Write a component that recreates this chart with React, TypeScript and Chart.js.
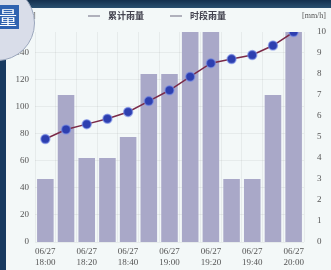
import React, { useEffect, useRef } from "react";
import { Chart, registerables } from "chart.js";

Chart.register(...registerables);

const categories = [
  ["06/27", "18:00"], ["06/27", "18:10"], ["06/27", "18:20"], ["06/27", "18:30"],
  ["06/27", "18:40"], ["06/27", "18:50"], ["06/27", "19:00"], ["06/27", "19:10"],
  ["06/27", "19:20"], ["06/27", "19:30"], ["06/27", "19:40"], ["06/27", "19:50"],
  ["06/27", "20:00"],
];
const periodRain = [3, 7, 4, 4, 5, 8, 8, 10, 10, 3, 3, 7, 10];
const cumulativeRain = [76, 83, 87, 91, 96, 104, 112, 122, 132, 135, 138, 145, 155];
const leftTicks = [0, 20, 40, 60, 80, 100, 120, 140];
const rightTicks = [0, 1, 2, 3, 4, 5, 6, 7, 8, 9, 10];
const legendLabels = ["累计雨量", "时段雨量"];
const leftUnit = "[mm]";
const rightUnit = "[mm/h]";

const FONT = "'Liberation Serif', 'DejaVu Serif', serif";

const overlay = {
  id: "overlay",
  afterDraw(chart: any) {
    const ctx = chart.ctx;
    ctx.save();
    ctx.font = "bold 9px 'Noto Sans CJK SC', sans-serif";
    ctx.textBaseline = "middle";
    const items = [
      { x: 88, label: legendLabels[0] },
      { x: 170, label: legendLabels[1] },
    ];
    items.forEach((it) => {
      ctx.strokeStyle = "#9a9aa8";
      ctx.lineWidth = 1.5;
      ctx.beginPath();
      ctx.moveTo(it.x, 16);
      ctx.lineTo(it.x + 12, 16);
      ctx.stroke();
      ctx.fillStyle = "#444450";
      ctx.textAlign = "left";
      ctx.fillText(it.label, it.x + 20, 16);
    });
    ctx.font = "8px " + FONT;
    ctx.fillStyle = "#555";
    ctx.textAlign = "left";
    ctx.fillText(leftUnit, 18, 16);
    ctx.textAlign = "right";
    ctx.fillText(rightUnit, 326, 16);
    ctx.restore();
  },
};

export default function App() {
  const ref = useRef<HTMLCanvasElement | null>(null);
  useEffect(() => {
    document.body.style.margin = "0";
    const chart = new Chart(ref.current as HTMLCanvasElement, {
      data: {
        labels: categories as any,
        datasets: [
          {
            type: "line",
            label: legendLabels[0],
            data: cumulativeRain,
            yAxisID: "yL",
            borderColor: "#7a2a48",
            borderWidth: 1.5,
            pointBackgroundColor: "#2d3fb0",
            pointBorderColor: "rgba(120,140,230,0.6)",
            pointBorderWidth: 1.5,
            pointRadius: 4.5,
            order: 0,
          },
          {
            type: "bar",
            label: legendLabels[1],
            data: periodRain,
            yAxisID: "yR",
            backgroundColor: "#a9a8c8",
            categoryPercentage: 0.8,
            barPercentage: 1,
            order: 1,
          },
        ],
      } as any,
      options: {
        animation: false,
        responsive: false,
        layout: { padding: { top: 32, left: 0, right: 0, bottom: 0 } },
        plugins: { legend: { display: false }, tooltip: { enabled: false } },
        scales: {
          x: {
            offset: true,
            grid: { color: "rgba(0,0,0,0.05)", drawTicks: false },
            border: { display: false },
            ticks: {
              autoSkip: false,
              maxRotation: 0,
              padding: 4,
              color: "#555",
              font: { family: FONT, size: 9, lineHeight: 1.2 },
              callback: (_v: any, i: number) => (i % 2 === 0 ? categories[i] : ""),
            },
            afterFit: (s: any) => { s.height = 28; },
          },
          yL: {
            position: "left",
            min: 0,
            max: 155,
            grid: { color: "rgba(0,0,0,0.05)", drawTicks: false },
            border: { display: false },
            afterBuildTicks: (s: any) => { s.ticks = leftTicks.map((v) => ({ value: v })); },
            ticks: { color: "#555", padding: 6, font: { family: FONT, size: 9 } },
            afterFit: (s: any) => { s.width = 35; },
          },
          yR: {
            position: "right",
            min: 0,
            max: 10,
            grid: { display: false },
            border: { display: false },
            afterBuildTicks: (s: any) => { s.ticks = rightTicks.map((v) => ({ value: v })); },
            ticks: { color: "#555", padding: 5, font: { family: FONT, size: 9 } },
            afterFit: (s: any) => { s.width = 27; },
          },
        },
      } as any,
      plugins: [overlay],
    });
    return () => chart.destroy();
  }, []);

  return (
    <div style={{ position: "relative", width: 331, height: 270, background: "#f3f8f8", overflow: "hidden" }}>
      <canvas ref={ref} width={331} height={270} style={{ position: "absolute", left: 0, top: 0 }} />
      <div style={{ position: "absolute", left: 0, top: 0, width: 331, height: 8, background: "linear-gradient(#14304e, #2a5070)" }} />
      <div style={{ position: "absolute", left: 0, top: 0, width: 6, height: 270, background: "#183a60" }} />
      <div
        style={{
          position: "absolute", left: -41, top: -15, width: 74, height: 74, borderRadius: "50%",
          background: "#d9dde9", border: "1px solid #9aa6bc", overflow: "hidden",
        }}
      >
        <div
          style={{
            position: "absolute", left: 35, top: 19, width: 24, height: 24, background: "#2f62b0",
            color: "#fff", fontFamily: "'Noto Sans CJK SC', sans-serif", fontSize: 18, lineHeight: "24px",
            textAlign: "right", paddingRight: 2, boxSizing: "border-box",
          }}
        >
          量
        </div>
      </div>
    </div>
  );
}
